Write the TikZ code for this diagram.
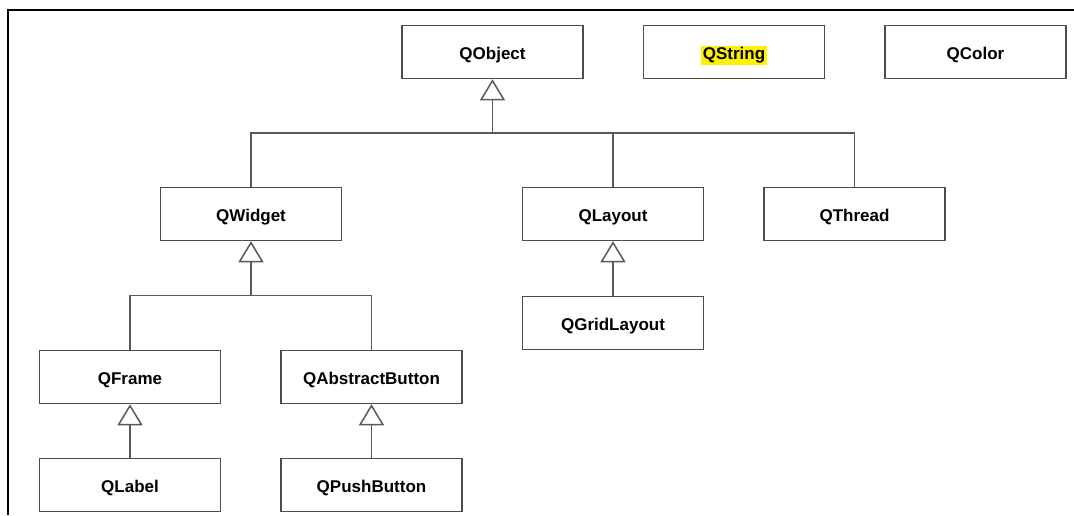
\documentclass[tikz,border=0pt]{standalone}
\usepackage{fontspec}
\setmainfont{Liberation Sans}
\usetikzlibrary{arrows.meta}
\begin{document}
\begin{tikzpicture}[x=1pt,y=-1pt,
  cls/.style={draw=black!70, line width=1.5pt, fill=white, minimum width=181pt, minimum height=53pt,
    inner sep=0pt, text height=15pt, text depth=0pt, font=\fontsize{17}{20}\selectfont\bfseries},
  conn/.style={draw=black!65, line width=1.5pt},
  inh/.style={conn, -{Triangle[open, width=25pt, length=21pt, fill=white]}},
  frame/.style={draw=black, line width=2pt}]
\useasboundingbox (0,0) rectangle (1074,515);
\draw[frame] (7.5,10) -- (1074,10);
\draw[frame] (7.5,9) -- (7.5,515);
% top row
\node[cls] (QObject) at (492.5,52) {QObject};
\node[cls] (QString) at (734,52) {\setlength{\fboxsep}{1.5pt}\colorbox{yellow}{QString}};
\node[cls] (QColor) at (975.5,52) {QColor};
% second row
\node[cls] (QWidget) at (251,214) {QWidget};
\node[cls] (QLayout) at (613,214) {QLayout};
\node[cls] (QThread) at (854.5,214) {QThread};
% third
\node[cls] (QGridLayout) at (613,323) {QGridLayout};
\node[cls] (QFrame) at (130,377) {QFrame};
\node[cls] (QAbstractButton) at (371.5,377) {QAbstractButton};
\node[cls] (QLabel) at (130,485) {QLabel};
\node[cls] (QPushButton) at (371.5,485) {QPushButton};
% buses
\coordinate (b1) at (492.5,133);
\coordinate (b2) at (251,295.5);
\draw[inh] (b1) -- (QObject.south);
\draw[conn] (QWidget.north) |- (b1) -| (QThread.north);
\draw[conn] (QLayout.north) -- (QLayout.north |- b1);
\draw[inh] (b2) -- (QWidget.south);
\draw[conn] (QFrame.north) |- (b2) -| (QAbstractButton.north);
\draw[inh] (QGridLayout.north) -- (QLayout.south);
\draw[inh] (QLabel.north) -- (QFrame.south);
\draw[inh] (QPushButton.north) -- (QAbstractButton.south);
\end{tikzpicture}
\end{document}
